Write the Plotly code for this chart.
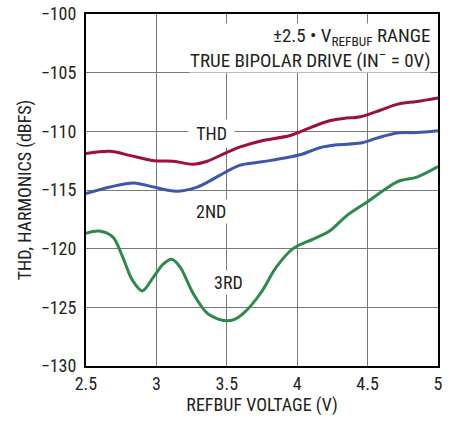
import plotly.graph_objects as go

thd_x = [2.5, 2.67, 2.81, 2.98, 3.12, 3.26, 3.36, 3.5, 3.59, 3.75, 3.95, 4.09, 4.23, 4.33, 4.45,
         4.59, 4.71, 4.85, 5.0]
thd_y = [-111.9, -111.7, -112.05, -112.5, -112.55, -112.8, -112.55, -111.8, -111.35, -110.8,
         -110.35, -109.7, -109.1, -108.9, -108.75, -108.2, -107.7, -107.45, -107.15]

nd2_x = [2.5, 2.67, 2.84, 2.98, 3.14, 3.29, 3.45, 3.59, 3.75, 4.02, 4.16, 4.28, 4.45, 4.56,
         4.71, 4.85, 5.0]
nd2_y = [-115.3, -114.75, -114.4, -114.75, -115.1, -114.75, -113.75, -112.9, -112.6, -112.0,
         -111.4, -111.15, -111.0, -110.6, -110.15, -110.1, -109.95]

rd3_x = [2.5, 2.59, 2.69, 2.76, 2.83, 2.90, 2.98, 3.05, 3.11, 3.17, 3.26, 3.36, 3.44, 3.50, 3.56,
         3.62, 3.74, 3.85, 3.97, 4.11, 4.23, 4.35, 4.5, 4.71, 4.85, 5.0]
rd3_y = [-118.7, -118.5, -119.0, -120.7, -122.7, -123.6, -122.4, -121.3, -120.9, -121.6, -123.8,
         -125.5, -126.0, -126.15, -126.0, -125.5, -123.8, -121.6, -120.0, -119.2, -118.5, -117.2,
         -116.0, -114.3, -113.9, -113.0]

FONT = "Liberation Sans Narrow, Roboto Condensed, Arial Narrow, sans-serif"
RED, BLUE, GREEN = "#9E1039", "#3B58AD", "#2E8A4A"
TXT = "#231F20"
FS = 18

fig = go.Figure()
for xs, ys, c in [(thd_x, thd_y, RED), (nd2_x, nd2_y, BLUE), (rd3_x, rd3_y, GREEN)]:
    fig.add_trace(go.Scatter(x=xs, y=ys, mode="lines",
                             line=dict(color=c, width=3, shape="spline", smoothing=0.9),
                             showlegend=False, hoverinfo="skip"))

ann_font = dict(family=FONT, size=FS, color=TXT)
fig.add_annotation(x=3.39, y=-110.2, text="&nbsp;THD&nbsp;", showarrow=False, bgcolor="white",
                   font=ann_font, borderpad=3)
fig.add_annotation(x=3.39, y=-116.8, text="2ND", showarrow=False, bgcolor="white",
                   font=ann_font, borderpad=1)
fig.add_annotation(x=3.51, y=-122.9, text="3RD", showarrow=False, bgcolor="white",
                   font=ann_font, borderpad=1)
fig.add_annotation(x=4.95, y=-100.8, xanchor="right", yanchor="top", align="right",
                   text="±2.5 • V<sub>REFBUF</sub> RANGE<br>TRUE BIPOLAR DRIVE (IN<sup>–</sup> = 0V)",
                   showarrow=False, bgcolor="white", font=dict(family=FONT, size=19, color=TXT),
                   borderpad=0)

axis_common = dict(showgrid=True, gridcolor="#7a7a7a", gridwidth=1,
                   showline=True, linecolor="black", linewidth=2, mirror=True,
                   zeroline=False, ticks="", tickfont=dict(family=FONT, size=FS, color=TXT),
                   title_font=dict(family=FONT, size=FS, color=TXT))

fig.update_xaxes(range=[2.5, 5], dtick=0.5, tick0=2.5, title_text="REFBUF VOLTAGE (V)",
                 title_standoff=2, **axis_common)
fig.update_yaxes(range=[-130, -100], dtick=5, tick0=-130, title_text="THD, HARMONICS (dBFS)",
                 title_standoff=4, ticklabelstandoff=4, **axis_common)

fig.update_layout(width=454, height=423, margin=dict(l=86, r=16, t=14, b=57, autoexpand=False),
                  plot_bgcolor="white", paper_bgcolor="white",
                  font=dict(family=FONT, size=FS, color=TXT))

fig.write_html("out.html", config={"displayModeBar": False, "staticPlot": True})
with open("out.html", "r", encoding="utf-8") as f:
    html = f.read()
html = html.replace("<body>", '<body style="margin:0;padding:0;overflow:hidden">', 1)
with open("out.html", "w", encoding="utf-8") as f:
    f.write(html)
